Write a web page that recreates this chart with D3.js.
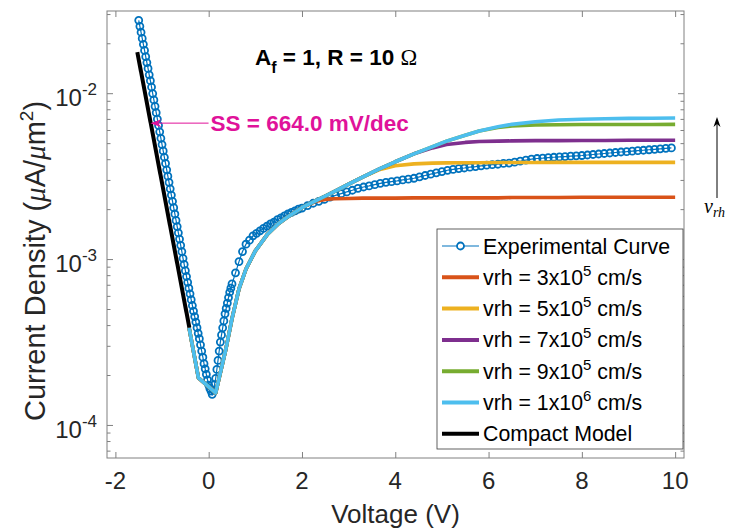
<!DOCTYPE html>
<html>
<head>
<meta charset="utf-8">
<script src="https://cdn.jsdelivr.net/npm/d3@7"></script>
<style>
  body { margin: 0; background: #fff; }
</style>
</head>
<body>
<div id="viz"></div>
<script>
// Experimental curve (V, J in uA/um^2)
const expV = [
  -1.5, -1.475, -1.45, -1.425, -1.4, -1.375, -1.35, -1.325, -1.3, -1.275,
  -1.25, -1.225, -1.2, -1.175, -1.15, -1.125, -1.1, -1.075, -1.05, -1.025,
  -1.0, -0.975, -0.95, -0.925, -0.9, -0.875, -0.85, -0.825, -0.8, -0.775,
  -0.75, -0.725, -0.7, -0.675, -0.65, -0.625, -0.6, -0.575, -0.55, -0.525,
  -0.5, -0.475, -0.45, -0.425, -0.4, -0.375, -0.35, -0.325, -0.3, -0.275,
  -0.25, -0.225, -0.2, -0.175, -0.15, -0.125, -0.1, -0.075, -0.05, -0.025,
  0.0, 0.025, 0.05, 0.075, 0.1, 0.125, 0.15, 0.175, 0.2, 0.225,
  0.25, 0.275, 0.3, 0.325, 0.35, 0.375, 0.4, 0.425, 0.45, 0.475,
  0.5, 0.575, 0.65, 0.725, 0.8, 0.875, 0.95, 1.025, 1.1, 1.175,
  1.25, 1.325, 1.4, 1.475, 1.55, 1.625, 1.7, 1.775, 1.85, 1.925,
  2.0, 2.12, 2.24, 2.36, 2.48, 2.6, 2.72, 2.84, 2.96, 3.08,
  3.2, 3.32, 3.44, 3.56, 3.68, 3.8, 3.92, 4.04, 4.16, 4.28,
  4.4, 4.52, 4.64, 4.76, 4.88, 5.0, 5.12, 5.24, 5.36, 5.48,
  5.6, 5.72, 5.84, 5.96, 6.08, 6.2, 6.32, 6.44, 6.56, 6.68,
  6.8, 6.92, 7.04, 7.16, 7.28, 7.4, 7.52, 7.64, 7.76, 7.88,
  8.0, 8.12, 8.24, 8.36, 8.48, 8.6, 8.72, 8.84, 8.96, 9.08,
  9.2, 9.32, 9.44, 9.56, 9.68, 9.8, 9.92
];
const expJ = [
  2.75e-2, 2.53e-2, 2.33e-2, 2.14e-2, 1.97e-2, 1.81e-2, 1.66e-2, 1.53e-2, 1.41e-2, 1.29e-2,
  1.19e-2, 1.09e-2, 9.95e-3, 9.11e-3, 8.34e-3, 7.63e-3, 6.98e-3, 6.39e-3, 5.85e-3, 5.35e-3,
  4.90e-3, 4.49e-3, 4.11e-3, 3.77e-3, 3.45e-3, 3.16e-3, 2.90e-3, 2.65e-3, 2.43e-3, 2.23e-3,
  2.04e-3, 1.87e-3, 1.71e-3, 1.57e-3, 1.44e-3, 1.32e-3, 1.21e-3, 1.11e-3, 1.01e-3, 9.29e-4,
  8.51e-4, 7.85e-4, 7.24e-4, 6.68e-4, 6.17e-4, 5.69e-4, 5.25e-4, 4.86e-4, 4.50e-4, 4.17e-4,
  3.86e-4, 3.57e-4, 3.31e-4, 3.04e-4, 2.79e-4, 2.56e-4, 2.34e-4, 2.18e-4, 2.02e-4, 1.87e-4,
  1.74e-4, 1.66e-4, 1.60e-4, 1.53e-4, 1.62e-4, 1.75e-4, 1.91e-4, 2.16e-4, 2.45e-4, 2.79e-4,
  3.16e-4, 3.49e-4, 3.85e-4, 4.24e-4, 4.68e-4, 5.04e-4, 5.43e-4, 5.86e-4, 6.31e-4, 6.68e-4,
  7.08e-4, 8.26e-4, 9.66e-4, 1.11e-3, 1.23e-3, 1.30e-3, 1.38e-3, 1.43e-3, 1.48e-3, 1.53e-3,
  1.58e-3, 1.63e-3, 1.67e-3, 1.73e-3, 1.77e-3, 1.82e-3, 1.87e-3, 1.91e-3, 1.95e-3, 2.00e-3,
  2.03e-3, 2.10e-3, 2.17e-3, 2.23e-3, 2.29e-3, 2.36e-3, 2.42e-3, 2.48e-3, 2.54e-3, 2.60e-3,
  2.67e-3, 2.72e-3, 2.76e-3, 2.81e-3, 2.86e-3, 2.90e-3, 2.93e-3, 2.96e-3, 3.00e-3, 3.03e-3,
  3.07e-3, 3.13e-3, 3.19e-3, 3.25e-3, 3.31e-3, 3.37e-3, 3.43e-3, 3.47e-3, 3.51e-3, 3.54e-3,
  3.58e-3, 3.61e-3, 3.65e-3, 3.68e-3, 3.71e-3, 3.73e-3, 3.77e-3, 3.79e-3, 3.84e-3, 3.89e-3,
  3.95e-3, 4.00e-3, 4.04e-3, 4.06e-3, 4.09e-3, 4.11e-3, 4.13e-3, 4.15e-3, 4.17e-3, 4.19e-3,
  4.21e-3, 4.24e-3, 4.27e-3, 4.30e-3, 4.33e-3, 4.36e-3, 4.39e-3, 4.42e-3, 4.44e-3, 4.47e-3,
  4.50e-3, 4.53e-3, 4.56e-3, 4.59e-3, 4.62e-3, 4.65e-3, 4.68e-3
];

// Simulated curves, one per vrh, on a shared voltage grid
const simV = [-0.42, -0.22, 0.15, 0.37, 0.5, 0.65, 0.8, 1.0, 1.25, 1.5, 1.75,
  2.0, 2.3, 2.5, 2.7, 3.0, 3.3, 3.65, 4.0, 4.4, 4.8, 5.1, 5.5, 5.8,
  6.2, 6.5, 7.0, 7.5, 8.0, 8.5, 9.0, 9.5, 10.0];
const sim3e5 = [3.85e-4, 1.92e-4, 1.56e-4, 2.88e-4, 4.37e-4, 6.61e-4, 8.71e-4, 1.12e-3, 1.40e-3, 1.64e-3, 1.84e-3,
  2.04e-3, 2.23e-3, 2.29e-3, 2.31e-3, 2.32e-3, 2.33e-3, 2.33e-3, 2.33e-3, 2.34e-3, 2.34e-3, 2.34e-3, 2.34e-3, 2.34e-3,
  2.34e-3, 2.35e-3, 2.35e-3, 2.35e-3, 2.36e-3, 2.36e-3, 2.36e-3, 2.36e-3, 2.36e-3];
const sim5e5 = [3.85e-4, 1.92e-4, 1.56e-4, 2.88e-4, 4.37e-4, 6.61e-4, 8.71e-4, 1.12e-3, 1.40e-3, 1.64e-3, 1.84e-3,
  2.04e-3, 2.25e-3, 2.40e-3, 2.56e-3, 2.83e-3, 3.12e-3, 3.45e-3, 3.65e-3, 3.75e-3, 3.79e-3, 3.80e-3, 3.81e-3, 3.81e-3,
  3.82e-3, 3.82e-3, 3.82e-3, 3.83e-3, 3.83e-3, 3.83e-3, 3.83e-3, 3.83e-3, 3.83e-3];
const sim7e5 = [3.85e-4, 1.92e-4, 1.56e-4, 2.88e-4, 4.37e-4, 6.61e-4, 8.71e-4, 1.12e-3, 1.40e-3, 1.64e-3, 1.84e-3,
  2.04e-3, 2.25e-3, 2.40e-3, 2.56e-3, 2.83e-3, 3.12e-3, 3.48e-3, 3.86e-3, 4.31e-3, 4.68e-3, 4.90e-3, 5.05e-3, 5.11e-3,
  5.14e-3, 5.16e-3, 5.18e-3, 5.18e-3, 5.19e-3, 5.19e-3, 5.20e-3, 5.20e-3, 5.20e-3];
const sim9e5 = [3.85e-4, 1.92e-4, 1.56e-4, 2.88e-4, 4.37e-4, 6.61e-4, 8.71e-4, 1.12e-3, 1.40e-3, 1.64e-3, 1.84e-3,
  2.04e-3, 2.25e-3, 2.40e-3, 2.56e-3, 2.83e-3, 3.12e-3, 3.48e-3, 3.86e-3, 4.31e-3, 4.76e-3, 5.14e-3, 5.58e-3, 5.92e-3,
  6.21e-3, 6.34e-3, 6.43e-3, 6.46e-3, 6.47e-3, 6.47e-3, 6.48e-3, 6.48e-3, 6.49e-3];
const sim1e6 = [3.85e-4, 1.92e-4, 1.56e-4, 2.88e-4, 4.37e-4, 6.61e-4, 8.71e-4, 1.12e-3, 1.40e-3, 1.64e-3, 1.84e-3,
  2.04e-3, 2.25e-3, 2.40e-3, 2.56e-3, 2.83e-3, 3.12e-3, 3.48e-3, 3.86e-3, 4.31e-3, 4.76e-3, 5.14e-3, 5.58e-3, 5.92e-3,
  6.27e-3, 6.49e-3, 6.73e-3, 6.89e-3, 6.97e-3, 7.02e-3, 7.05e-3, 7.06e-3, 7.08e-3];

// Compact model (subthreshold fit)
const compactV = [-1.53, -0.415];
const compactJ = [1.77e-2, 3.86e-4];

const xTicks = [-2, 0, 2, 4, 6, 8, 10];
const yTicks = [1e-4, 1e-3, 1e-2];
const yTickExp = ["-4", "-3", "-2"];
const legendLabels = ["Experimental Curve", "vrh = 3x10^5 cm/s", "vrh = 5x10^5 cm/s",
  "vrh = 7x10^5 cm/s", "vrh = 9x10^5 cm/s", "vrh = 1x10^6 cm/s", "Compact Model"];
const colors = ["#0072BD", "#D95319", "#EDB120", "#7E2F8E", "#77AC30", "#4DBEEE", "#000000"];

const sans = "Helvetica, 'Liberation Sans', Arial, sans-serif";
const serif = "'Liberation Serif', 'DejaVu Serif', serif";

const margin = {top: 11, right: 46, bottom: 72, left: 107},
    width = 730 - margin.left - margin.right,
    height = 530 - margin.top - margin.bottom;

const svg = d3.select("#viz").append("svg")
    .attr("width", 730)
    .attr("height", 530)
    .attr("font-family", sans);
const g = svg.append("g")
    .attr("transform", `translate(${margin.left},${margin.top})`);

const x = d3.scaleLinear().domain([-2.18, 10.19]).range([0, width]);
const y = d3.scaleLog().domain([6.32e-5, 3.13e-2]).range([height, 0]);

const axisCol = "#808080", textCol = "#262626";

// clip for the data
g.append("clipPath").attr("id", "clip")
  .append("rect").attr("width", width).attr("height", height);

// axes (ticks point inward, box style)
const minor = y.ticks().filter(t => !yTicks.some(m => Math.abs(t / m - 1) < 1e-6));
function tickSet(sel) {
  sel.select(".domain").remove();
  sel.selectAll("line").attr("stroke", axisCol);
  sel.selectAll("text").remove();
}
g.append("g").attr("transform", `translate(0,${height})`)
  .call(d3.axisBottom(x).tickValues(xTicks).tickSize(-6)).call(tickSet);
g.append("g")
  .call(d3.axisTop(x).tickValues(xTicks).tickSize(-6)).call(tickSet);
g.append("g").call(d3.axisLeft(y).tickValues(yTicks).tickSize(-6)).call(tickSet);
g.append("g").call(d3.axisLeft(y).tickValues(minor).tickSize(-3.5)).call(tickSet);
g.append("g").attr("transform", `translate(${width},0)`)
  .call(d3.axisRight(y).tickValues(yTicks).tickSize(-6)).call(tickSet);
g.append("g").attr("transform", `translate(${width},0)`)
  .call(d3.axisRight(y).tickValues(minor).tickSize(-3.5)).call(tickSet);

g.append("rect").attr("width", width).attr("height", height)
  .attr("fill", "none").attr("stroke", axisCol).attr("stroke-width", 1);

// tick labels
g.selectAll(".xlab").data(xTicks).join("text")
  .attr("x", d => x(d)).attr("y", height + 31)
  .attr("text-anchor", "middle").attr("font-size", 24).attr("fill", textCol)
  .text(d => d);
yTicks.forEach((t, i) => {
  const lab = g.append("text").attr("x", -10).attr("y", y(t) + 13)
    .attr("text-anchor", "end").attr("font-size", 24).attr("fill", textCol);
  lab.append("tspan").text("10");
  lab.append("tspan").attr("dy", -11).attr("font-size", 17).text(yTickExp[i]);
});

// axis labels
svg.append("text")
  .attr("x", margin.left + width / 2).attr("y", 523)
  .attr("text-anchor", "middle").attr("font-size", 26).attr("fill", textCol)
  .text("Voltage (V)");
const yl = svg.append("text")
  .attr("transform", "translate(45,261) rotate(-90)")
  .attr("text-anchor", "middle").attr("font-size", 29).attr("fill", textCol);
yl.append("tspan").text("Current Density (");
yl.append("tspan").attr("font-family", serif).attr("font-style", "italic").text("\u03bc");
yl.append("tspan").text("A/");
yl.append("tspan").attr("font-family", serif).attr("font-style", "italic").text("\u03bc");
yl.append("tspan").text("m");
yl.append("tspan").attr("dy", -12).attr("font-size", 19).text("2");
yl.append("tspan").attr("dy", 12).text(")");

// data
const plot = g.append("g").attr("clip-path", "url(#clip)");
const line = d3.line().x(d => x(d[0])).y(d => y(d[1]));

const expData = expV.map((v, i) => [v, expJ[i]]);
plot.append("path").datum(expData)
  .attr("fill", "none").attr("stroke", colors[0]).attr("stroke-width", 1.2)
  .attr("d", line);
plot.selectAll(".pt").data(expData).join("circle")
  .attr("cx", d => x(d[0])).attr("cy", d => y(d[1])).attr("r", 3.5)
  .attr("fill", "none").attr("stroke", colors[0]).attr("stroke-width", 1.8);

[sim3e5, sim5e5, sim7e5, sim9e5, sim1e6].forEach((s, k) => {
  plot.append("path").datum(simV.map((v, i) => [v, s[i]]))
    .attr("fill", "none").attr("stroke", colors[k + 1]).attr("stroke-width", 3.6)
    .attr("stroke-linejoin", "round")
    .attr("d", line);
});
plot.append("path").datum(compactV.map((v, i) => [v, compactJ[i]]))
  .attr("fill", "none").attr("stroke", colors[6]).attr("stroke-width", 4)
  .attr("d", line);

// arrow head helper (MATLAB-like notched head), angle in degrees of pointing direction
function arrowHead(parent, px, py, angle, len, wid, col) {
  parent.append("path")
    .attr("d", `M0,0 L${-len},${-wid / 2} L${-len * 0.7},0 L${-len},${wid / 2} Z`)
    .attr("transform", `translate(${px},${py}) rotate(${angle})`)
    .attr("fill", col);
}

// title
const title = g.append("text").attr("x", 148).attr("y", 54)
  .attr("font-size", 22.5).attr("font-weight", "bold").attr("fill", "#000");
title.append("tspan").text("A");
title.append("tspan").attr("dy", 8).attr("font-size", 16).text("f");
title.append("tspan").attr("dy", -8).text(" = 1, R = 10 ");
title.append("tspan").attr("font-family", serif).attr("font-weight", "normal").text("\u03a9");

// SS annotation
const ssCol = "#E0129A";
const ssTip = {v: -1.25, j: 6.6e-3}, ssTextV = 0.04;
g.append("line")
  .attr("x1", x(ssTip.v) + 4).attr("y1", y(ssTip.j))
  .attr("x2", x(ssTextV) - 2).attr("y2", y(ssTip.j))
  .attr("stroke", ssCol).attr("stroke-width", 1);
arrowHead(g, x(ssTip.v), y(ssTip.j), 180, 11, 8, ssCol);
g.append("text").attr("x", x(ssTextV)).attr("y", y(ssTip.j) + 8)
  .attr("font-size", 22.5).attr("font-weight", "bold").attr("fill", ssCol)
  .text("SS = 664.0 mV/dec");

// v_rh arrow on the right
svg.append("line").attr("x1", 717).attr("y1", 198).attr("x2", 717).attr("y2", 122)
  .attr("stroke", "#000").attr("stroke-width", 1);
arrowHead(svg, 717, 117, -90, 10, 7, "#000");
const vr = svg.append("text").attr("x", 704).attr("y", 213)
  .attr("font-family", serif).attr("font-style", "italic")
  .attr("font-size", 20).attr("fill", "#000");
vr.append("tspan").text("v");
vr.append("tspan").attr("dy", 4).attr("font-size", 14).text("rh");

// legend
const leg = svg.append("g").attr("transform", "translate(437,229)");
leg.append("rect").attr("width", 246).attr("height", 220)
  .attr("fill", "#fff").attr("stroke", "#3a3a3a").attr("stroke-width", 0.8);
legendLabels.forEach((lab, i) => {
  const cy = 17 + i * 31.3;
  const row = leg.append("g").attr("transform", `translate(0,${cy})`);
  row.append("line").attr("x1", 5).attr("x2", 42).attr("y1", 0).attr("y2", 0)
    .attr("stroke", colors[i]).attr("stroke-width", i === 0 ? 1.2 : 4);
  if (i === 0) {
    row.append("circle").attr("cx", 23.5).attr("cy", 0).attr("r", 3.5)
      .attr("fill", "#fff").attr("stroke", colors[0]).attr("stroke-width", 1.8);
  }
  const t = row.append("text").attr("x", 46).attr("y", 7.5)
    .attr("font-size", 21.3).attr("fill", "#000");
  const m = lab.match(/^(.*)\^(\d)(.*)$/);
  if (m) {
    t.append("tspan").text(m[1]);
    t.append("tspan").attr("dy", -9).attr("font-size", 15).text(m[2]);
    t.append("tspan").attr("dy", 9).text(m[3]);
  } else {
    t.text(lab);
  }
});
</script>
</body>
</html>
